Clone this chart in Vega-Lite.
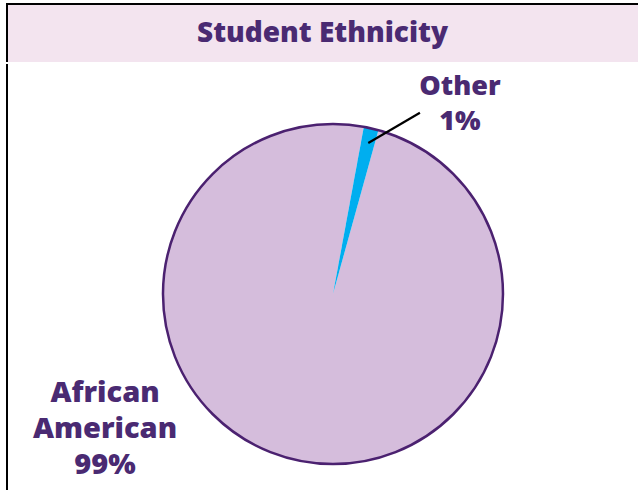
{
  "$schema": "https://vega.github.io/schema/vega-lite/v6.json",
  "padding": {"left": 6, "top": 3, "right": 0, "bottom": 0},
  "background": "white",
  "spacing": 0,
  "config": {"view": {"stroke": null}, "font": "Open Sans", "concat": {"spacing": 0}},
  "datasets": {
    "eth": [
      {"ethnicity": "African American", "share": 98.6, "label": "African\nAmerican\n99%"},
      {"ethnicity": "Other", "share": 1.4, "label": "Other\n1%"}
    ]
  },
  "vconcat": [
    {
      "width": 631,
      "height": 58,
      "view": {"fill": "#f3e4ef", "stroke": "black", "strokeWidth": 2, "strokeDash": [631, 689, 58]},
      "data": {"values": [{"title": "Student Ethnicity"}]},
      "mark": {"type": "text", "font": "Open Sans", "fontWeight": 800, "fontSize": 28, "fill": "#4a2a72", "baseline": "middle", "align": "center", "dy": 1},
      "encoding": {"text": {"field": "title", "type": "nominal"}}
    },
    {
      "width": 631,
      "height": 427,
      "view": {"stroke": "black", "strokeWidth": 2, "strokeDash": [0, 1689, 427]},
      "data": {"name": "eth"},
      "layer": [
        {
          "mark": {"type": "arc", "radius": 170, "stroke": null},
          "encoding": {
            "theta": {"field": "share", "type": "quantitative", "stack": true, "scale": {"range": [0.2705, 6.5537]}},
            "color": {"field": "ethnicity", "type": "nominal", "scale": {"domain": ["African American", "Other"], "range": ["#d5bddc", "#00aeef"]}, "legend": null},
            "x": {"datum": 0, "type": "quantitative", "scale": {"domain": [-1.912, 1.789], "nice": false, "zero": false}, "axis": null},
            "y": {"datum": 0, "type": "quantitative", "scale": {"domain": [-1.155, 1.349], "nice": false, "zero": false}, "axis": null}
          }
        },
        {
          "data": {"values": [{}]},
          "mark": {"type": "arc", "radius": 170, "theta": 0, "theta2": 6.2832, "fill": null, "stroke": "#4b2170", "strokeWidth": 2.5},
          "encoding": {
            "x": {"datum": 0, "type": "quantitative", "scale": {"domain": [-1.912, 1.789], "nice": false, "zero": false}, "axis": null},
            "y": {"datum": 0, "type": "quantitative", "scale": {"domain": [-1.155, 1.349], "nice": false, "zero": false}, "axis": null}
          }
        },
        {
          "data": {"values": [{}]},
          "mark": {"type": "rule", "color": "black", "strokeWidth": 2.2},
          "encoding": {
            "x": {"datum": 0.207, "type": "quantitative", "scale": {"domain": [-1.912, 1.789], "nice": false, "zero": false}, "axis": null},
            "y": {"datum": 0.886, "type": "quantitative", "scale": {"domain": [-1.155, 1.349], "nice": false, "zero": false}, "axis": null},
            "x2": {"datum": 0.51},
            "y2": {"datum": 1.063}
          }
        },
        {
          "transform": [{"filter": "datum.ethnicity === 'Other'"}],
          "mark": {"type": "text", "align": "center", "baseline": "alphabetic", "lineBreak": "\n", "lineHeight": 34.7, "fontSize": 27, "fontWeight": 800, "font": "Open Sans", "fill": "#4a2a72"},
          "encoding": {
            "x": {"datum": 0.745, "type": "quantitative", "scale": {"domain": [-1.912, 1.789], "nice": false, "zero": false}, "axis": null},
            "y": {"datum": 1.165, "type": "quantitative", "scale": {"domain": [-1.155, 1.349], "nice": false, "zero": false}, "axis": null},
            "text": {"field": "label", "type": "nominal"}
          }
        },
        {
          "transform": [{"filter": "datum.ethnicity === 'African American'"}],
          "mark": {"type": "text", "align": "center", "baseline": "alphabetic", "lineBreak": "\n", "lineHeight": 36, "fontSize": 29, "fontWeight": 800, "font": "Open Sans", "fill": "#4a2a72"},
          "encoding": {
            "x": {"datum": -1.337, "type": "quantitative", "scale": {"domain": [-1.912, 1.789], "nice": false, "zero": false}, "axis": null},
            "y": {"datum": -0.633, "type": "quantitative", "scale": {"domain": [-1.155, 1.349], "nice": false, "zero": false}, "axis": null},
            "text": {"field": "label", "type": "nominal"}
          }
        }
      ]
    }
  ]
}
